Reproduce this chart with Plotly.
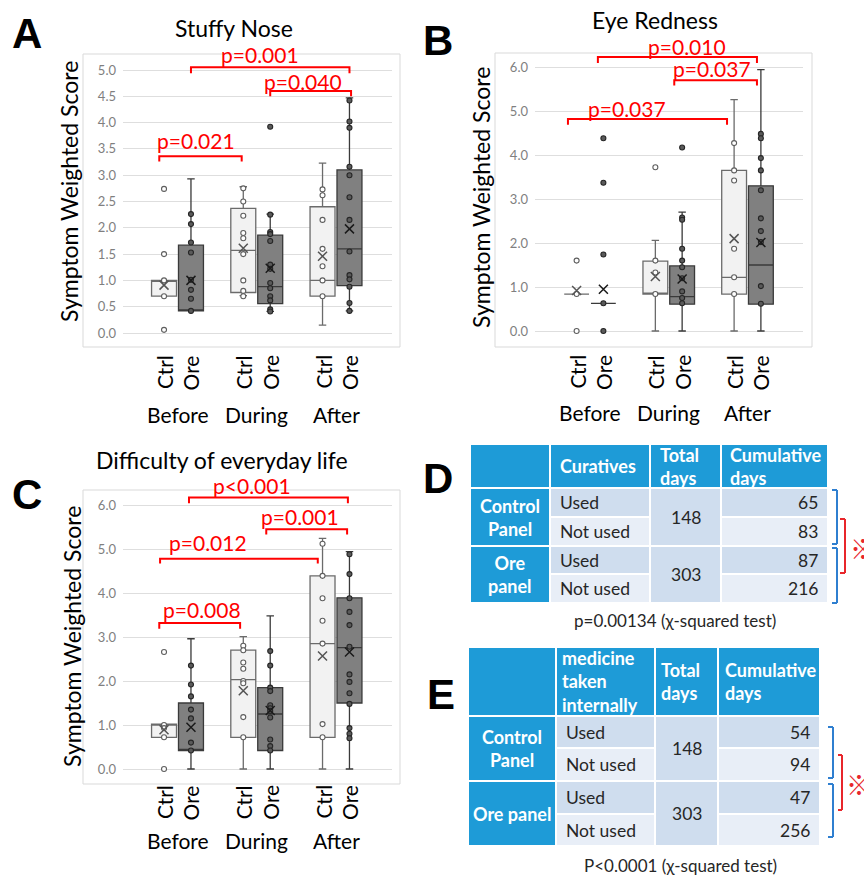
import plotly.graph_objects as go

W, H = 864, 876
def xp(p): return p / W
def yp(p): return 1 - p / H

FONT = "Lato"
groups = ["Before", "During", "After"]
series = ["Ctrl", "Ore"]

# ---------------- Panel A: Stuffy Nose ----------------
A_ctrl_q1   = [0.70, 0.77, 0.70]
A_ctrl_med  = [1.00, 1.57, 1.00]
A_ctrl_q3   = [1.00, 2.37, 2.40]
A_ctrl_lo   = [0.70, 0.71, 0.15]
A_ctrl_hi   = [1.00, 2.78, 3.23]
A_ctrl_mean = [0.91, 1.61, 1.46]
A_ctrl_pts  = [[2.74, 1.50, 1.00, 0.70, 0.06],
               [2.75, 2.50, 2.23, 1.90, 1.80, 1.50, 1.00, 0.80, 0.70],
               [2.73, 2.62, 2.15, 1.60, 1.27, 1.00, 0.70]]
A_ore_q1   = [0.42, 0.56, 0.90]
A_ore_med  = [0.42, 0.88, 1.60]
A_ore_q3   = [1.67, 1.86, 3.10]
A_ore_lo   = [0.42, 0.41, 0.42]
A_ore_hi   = [2.93, 2.26, 4.47]
A_ore_mean = [1.00, 1.23, 1.98]
A_ore_pts  = [[2.26, 2.07, 1.72, 1.53, 1.01, 0.82, 0.65, 0.42],
              [3.92, 2.25, 1.92, 1.88, 1.75, 1.30, 1.22, 0.95, 0.85, 0.70, 0.62, 0.45, 0.41],
              [4.42, 4.02, 3.90, 3.16, 3.00, 2.58, 2.15, 1.55, 1.10, 1.02, 0.88, 0.57, 0.42]]
A_p_labels = ["p=0.001", "p=0.040", "p=0.021"]

# ---------------- Panel B: Eye Redness ----------------
B_ctrl_q1   = [0.84, 0.84, 0.84]
B_ctrl_med  = [0.84, 0.84, 1.22]
B_ctrl_q3   = [0.84, 1.59, 3.65]
B_ctrl_lo   = [0.84, 0.00, 0.00]
B_ctrl_hi   = [0.84, 2.06, 5.26]
B_ctrl_mean = [0.92, 1.24, 2.10]
B_ctrl_pts  = [[1.60, 0.84, 0.00],
               [3.72, 1.60, 1.33, 0.84],
               [4.27, 3.65, 3.42, 1.87, 1.22, 0.84]]
B_ore_q1   = [0.63, 0.61, 0.61]
B_ore_med  = [0.63, 0.78, 1.50]
B_ore_q3   = [0.63, 1.48, 3.30]
B_ore_lo   = [0.63, 0.00, 0.00]
B_ore_hi   = [0.63, 2.70, 5.94]
B_ore_mean = [0.95, 1.18, 2.01]
B_ore_pts  = [[4.38, 3.37, 1.74, 0.63, 0.00],
              [4.17, 2.58, 2.53, 1.87, 1.60, 1.45, 1.20, 0.90, 0.75, 0.63],
              [4.48, 4.38, 3.93, 3.65, 3.20, 2.56, 2.27, 2.02, 1.02, 0.62]]
B_p_labels = ["p=0.010", "p=0.037", "p=0.037"]

# ---------------- Panel C: Difficulty of everyday life ----------------
C_ctrl_q1   = [0.72, 0.72, 0.72]
C_ctrl_med  = [1.00, 2.03, 2.85]
C_ctrl_q3   = [1.02, 2.70, 4.39]
C_ctrl_lo   = [0.72, 0.00, 0.00]
C_ctrl_hi   = [1.02, 3.01, 5.24]
C_ctrl_mean = [0.89, 1.78, 2.57]
C_ctrl_pts  = [[2.66, 1.00, 0.93, 0.72, 0.00],
               [2.80, 2.70, 2.42, 2.28, 2.00, 1.95, 1.18, 0.72],
               [5.12, 4.39, 3.88, 3.37, 2.85, 1.02, 0.72]]
C_ore_q1   = [0.42, 0.42, 1.50]
C_ore_med  = [0.42, 1.25, 2.76]
C_ore_q3   = [1.50, 1.85, 3.89]
C_ore_lo   = [0.00, 0.00, 0.00]
C_ore_hi   = [2.96, 3.48, 4.94]
C_ore_mean = [0.95, 1.33, 2.66]
C_ore_pts  = [[2.35, 1.92, 1.65, 1.35, 1.15, 0.60, 0.42],
              [2.68, 2.35, 1.85, 1.77, 1.45, 1.38, 1.32, 1.17, 0.67, 0.52, 0.42],
              [4.88, 4.43, 3.88, 3.57, 3.27, 2.78, 2.15, 1.98, 1.72, 1.48, 0.93, 0.80, 0.70]]
C_p_labels = ["p<0.001", "p=0.001", "p=0.012", "p=0.008"]

# ---------------- Tables D and E ----------------
D_header = ["", "Curatives", "Total<br>days", "Cumulative<br>days"]
D_groups = ["Control<br>Panel", "Ore<br>panel"]
D_status = ["Used", "Not used", "Used", "Not used"]
D_total  = [148, 303]
D_cum    = [65, 83, 87, 216]
D_caption = "p=0.00134 (χ-squared test)"

E_header = ["", "medicine<br>taken<br>internally", "Total<br>days", "Cumulative<br>days"]
E_groups = ["Control<br>Panel", "Ore panel"]
E_status = ["Used", "Not used", "Used", "Not used"]
E_total  = [148, 303]
E_cum    = [54, 94, 47, 256]
E_caption = "P<0.0001 (χ-squared test)"

# ---------------- Layout geometry (pixels of the reference) ----------------
OFF = 0.17      # half distance between Ctrl and Ore boxes (group units)
BOXW = 0.315
CTRL_FILL, CTRL_LINE = "#f2f2f2", "#6b6b6b"
ORE_FILL, ORE_LINE = "#808080", "#3a3a3a"
RED = "#ff0000"

panels = [
    dict(key="A", xa="x", ya="y", title="Stuffy Nose", title_xy=(234, 28),
         xdom=(123, 392), c0=177.5, sp=79.25, ydom=(44, 346), y0px=333, ypu=52.6,
         ticks=[i * 0.5 for i in range(11)], ylab_xy=(69, 192),
         lab_top=353, grp_y=415, letter=("A", 27, 34),
         data=dict(ctrl=(A_ctrl_q1, A_ctrl_med, A_ctrl_q3, A_ctrl_lo, A_ctrl_hi, A_ctrl_mean, A_ctrl_pts),
                   ore=(A_ore_q1, A_ore_med, A_ore_q3, A_ore_lo, A_ore_hi, A_ore_mean, A_ore_pts)),
         labels=A_p_labels,
         brackets=[(0.17, 2.17, 5.05, 0.11, 1.04, 5.29),
                   (1.17, 2.19, 4.60, 0.10, 1.58, 4.79),
                   (-0.23, 0.81, 3.36, 0.10, 0.23, 3.66)],
         frame=(83, 54, 400, 347)),
    dict(key="B", xa="x2", ya="y2", title="Eye Redness", title_xy=(655, 20),
         xdom=(535, 803), c0=590, sp=78.75, ydom=(40, 345), y0px=331, ypu=44.0,
         ticks=[0, 1, 2, 3, 4, 5, 6], ylab_xy=(481, 197),
         lab_top=353, grp_y=412, letter=("B", 438, 40),
         data=dict(ctrl=(B_ctrl_q1, B_ctrl_med, B_ctrl_q3, B_ctrl_lo, B_ctrl_hi, B_ctrl_mean, B_ctrl_pts),
                   ore=(B_ore_q1, B_ore_med, B_ore_q3, B_ore_lo, B_ore_hi, B_ore_mean, B_ore_pts)),
         labels=B_p_labels,
         brackets=[(0.10, 2.12, 6.23, 0.14, 1.23, 6.47),
                   (1.07, 2.12, 5.70, 0.12, 1.55, 5.96),
                   (-0.28, 1.74, 4.82, 0.13, 0.47, 5.05)],
         frame=(495, 53, 812, 347)),
    dict(key="C", xa="x3", ya="y3", title="Difficulty of everyday life", title_xy=(222, 460),
         xdom=(123, 392), c0=177.5, sp=79.25, ydom=(484, 780), y0px=769, ypu=44.0,
         ticks=[0, 1, 2, 3, 4, 5, 6], ylab_xy=(72, 637),
         lab_top=783, grp_y=840, letter=("C", 27, 494),
         data=dict(ctrl=(C_ctrl_q1, C_ctrl_med, C_ctrl_q3, C_ctrl_lo, C_ctrl_hi, C_ctrl_mean, C_ctrl_pts),
                   ore=(C_ore_q1, C_ore_med, C_ore_q3, C_ore_lo, C_ore_hi, C_ore_mean, C_ore_pts)),
         labels=C_p_labels,
         brackets=[(0.145, 2.15, 6.17, 0.13, 0.94, 6.44),
                   (1.12, 2.14, 5.45, 0.12, 1.55, 5.73),
                   (-0.22, 1.77, 4.78, 0.11, 0.385, 5.14),
                   (-0.23, 0.79, 3.32, 0.13, 0.31, 3.62)],
         frame=(83, 490, 400, 784)),
]

fig = go.Figure()
shapes = []
annotations = []
layout_axes = {}

for p in panels:
    xa, ya = p["xa"], p["ya"]
    xname = "xaxis" + xa[1:]
    yname = "yaxis" + ya[1:]
    xr = [(p["xdom"][0] - p["c0"]) / p["sp"], (p["xdom"][1] - p["c0"]) / p["sp"]]
    yr = [(p["y0px"] - p["ydom"][1]) / p["ypu"], (p["y0px"] - p["ydom"][0]) / p["ypu"]]
    layout_axes[xname] = dict(domain=[xp(p["xdom"][0]), xp(p["xdom"][1])], range=xr,
                              anchor=ya, showgrid=False, zeroline=False, showline=False,
                              showticklabels=False, ticks="", fixedrange=True)
    layout_axes[yname] = dict(domain=[yp(p["ydom"][1]), yp(p["ydom"][0])], range=yr,
                              anchor=xa, tickvals=p["ticks"], tickformat=".1f",
                              showgrid=True, gridcolor="#dedede", gridwidth=1,
                              zeroline=False, showline=False, ticks="",
                              ticklabelstandoff=6,
                              tickfont=dict(family=FONT, size=13, color="#7f7f7f"))
    for si, s in enumerate(["ctrl", "ore"]):
        q1, med, q3, lo, hi, mean, pts = p["data"][s]
        sign = -1 if s == "ctrl" else 1
        xs = [gi + sign * OFF for gi in range(len(groups))]
        fill = CTRL_FILL if s == "ctrl" else ORE_FILL
        lc = CTRL_LINE if s == "ctrl" else ORE_LINE
        fig.add_trace(go.Box(x=xs, q1=q1, median=med, q3=q3, lowerfence=lo, upperfence=hi,
                             orientation="v", boxpoints=False, width=BOXW, whiskerwidth=0.3,
                             fillcolor=fill, line=dict(color=lc, width=1.3),
                             xaxis=xa, yaxis=ya, hoverinfo="skip", showlegend=False))
        px_, py_ = [], []
        for gi, vals in enumerate(pts):
            for v in vals:
                px_.append(xs[gi]); py_.append(v)
        if s == "ctrl":
            mk = dict(symbol="circle", size=5, color="white", line=dict(color="#5e5e5e", width=1.1))
        else:
            mk = dict(symbol="circle", size=5, color="#5a5a5a", line=dict(color="#262626", width=1.1))
        fig.add_trace(go.Scatter(x=px_, y=py_, mode="markers", marker=mk, xaxis=xa, yaxis=ya,
                                 hoverinfo="skip", showlegend=False, cliponaxis=False))
        mcol = "#555555" if s == "ctrl" else "#1a1a1a"
        fig.add_trace(go.Scatter(x=xs, y=mean, mode="markers",
                                 marker=dict(symbol="x-thin-open", size=9, color=mcol,
                                             line=dict(color=mcol, width=1.5)),
                                 xaxis=xa, yaxis=ya, hoverinfo="skip", showlegend=False))
    # p-value brackets
    for lab, (x0, x1, yb, tk, tx, ty) in zip(p["labels"], p["brackets"]):
        fig.add_trace(go.Scatter(x=[x0, x0, x1, x1], y=[yb - tk, yb, yb, yb - tk], mode="lines",
                                 line=dict(color=RED, width=2), xaxis=xa, yaxis=ya,
                                 hoverinfo="skip", showlegend=False, cliponaxis=False))
        annotations.append(dict(x=tx, y=ty, xref=xa, yref=ya, text=lab, showarrow=False,
                                xanchor="center", yanchor="middle",
                                font=dict(family=FONT, size=21, color=RED)))
    # category labels
    for gi, g in enumerate(groups):
        for si, s in enumerate(series):
            sign = -1 if si == 0 else 1
            annotations.append(dict(x=gi + sign * OFF, y=yp(p["lab_top"]), xref=xa, yref="paper",
                                    text=s, textangle=-90, showarrow=False,
                                    xanchor="center", yanchor="top",
                                    font=dict(family=FONT, size=21, color="black")))
        annotations.append(dict(x=gi, y=yp(p["grp_y"]), xref=xa, yref="paper", text=g,
                                showarrow=False, xanchor="center", yanchor="middle",
                                font=dict(family=FONT, size=21, color="black")))
    # titles, y titles, panel letters
    annotations.append(dict(x=xp(p["title_xy"][0]), y=yp(p["title_xy"][1]), xref="paper", yref="paper",
                            text=p["title"], showarrow=False, xanchor="center", yanchor="middle",
                            font=dict(family=FONT, size=23, color="black")))
    annotations.append(dict(x=xp(p["ylab_xy"][0]), y=yp(p["ylab_xy"][1]), xref="paper", yref="paper",
                            text="Symptom Weighted Score", textangle=-90, showarrow=False,
                            xanchor="center", yanchor="middle",
                            font=dict(family=FONT, size=23, color="black")))
    L, lx, ly = p["letter"]
    annotations.append(dict(x=xp(lx), y=yp(ly), xref="paper", yref="paper", text="<b>%s</b>" % L,
                            showarrow=False, xanchor="center", yanchor="middle",
                            font=dict(family="Liberation Sans", size=42, color="black")))
    fx0, fy0, fx1, fy1 = p["frame"]
    shapes.append(dict(type="rect", xref="paper", yref="paper", x0=xp(fx0), x1=xp(fx1),
                       y0=yp(fy1), y1=yp(fy0), line=dict(color="#d9d9d9", width=1),
                       fillcolor="rgba(0,0,0,0)", layer="below"))

# ---------------- tables ----------------
BLUE = "#1e9bd7"
USED = "#cfddee"
NOTUSED = "#e8eef7"
TXT = "#262626"

def rect(x0, y0, x1, y1, color):
    shapes.append(dict(type="rect", xref="paper", yref="paper", x0=xp(x0), x1=xp(x1),
                       y0=yp(y1), y1=yp(y0), fillcolor=color, line=dict(color="white", width=2),
                       layer="above"))

def text(x, y, s, anchor="left", color=TXT, size=17.5, bold=False):
    annotations.append(dict(x=xp(x), y=yp(y), xref="paper", yref="paper",
                            text=("<b>%s</b>" % s) if bold else s, showarrow=False,
                            xanchor=anchor, yanchor="middle", align=anchor if anchor != "center" else "center",
                            font=dict(family=FONT, size=size, color=color)))

def bracket(x0, x1, y0, y1, color):
    for (a, b, c, d) in [(x0, y0, x1, y0), (x1, y0, x1, y1), (x0, y1, x1, y1)]:
        shapes.append(dict(type="line", xref="paper", yref="paper", x0=xp(a), y0=yp(b),
                           x1=xp(c), y1=yp(d), line=dict(color=color, width=2)))

def add_table(cols, rows, header, grp, status, total, cum, caption, cap_xy, hdr_pads,
              blue_br, red_br, mark_xy):
    for ci in range(4):
        rect(cols[ci], rows[0], cols[ci + 1], rows[1], BLUE)
        if header[ci]:
            text(cols[ci] + hdr_pads[ci], (rows[0] + rows[1]) / 2, header[ci], color="white",
                 bold=True, size=18)
    for gi in range(2):
        r0, r1 = rows[1 + 2 * gi], rows[3 + 2 * gi]
        rect(cols[0], r0, cols[1], r1, BLUE)
        text((cols[0] + cols[1]) / 2, (r0 + r1) / 2, grp[gi], anchor="center", color="white",
             bold=True, size=18)
        rect(cols[2], r0, cols[3], r1, USED)
        text((cols[2] + cols[3]) / 2, (r0 + r1) / 2, str(total[gi]), anchor="center")
    for ri in range(4):
        c = USED if ri % 2 == 0 else NOTUSED
        y0, y1 = rows[1 + ri], rows[2 + ri]
        rect(cols[1], y0, cols[2], y1, c)
        rect(cols[3], y0, cols[4], y1, c)
        text(cols[1] + 8, (y0 + y1) / 2, status[ri])
        text(cols[4] - 8, (y0 + y1) / 2, str(cum[ri]), anchor="right")
    text(cap_xy[0], cap_xy[1], caption, anchor="center", size=17)
    for (x0, x1, y0, y1) in blue_br:
        bracket(x0, x1, y0, y1, "#2f7fd0")
    bracket(*red_br, "#e8262b")
    annotations.append(dict(x=xp(mark_xy[0]), y=yp(mark_xy[1]), xref="paper", yref="paper",
                            text="※", showarrow=False, xanchor="left", yanchor="middle",
                            font=dict(family="Noto Sans CJK JP", size=26, color="#e8262b")))

add_table([470, 550, 650, 721, 828], [444, 488, 517, 546, 574, 603],
          D_header, D_groups, D_status, D_total, D_cum, D_caption, (675, 620),
          [0, 8, 8, 7],
          [(832, 837, 490, 544), (832, 837, 548, 603)], (840, 845, 519, 573), (848, 547))
annotations.append(dict(x=xp(438), y=yp(478), xref="paper", yref="paper", text="<b>D</b>",
                        showarrow=False, xanchor="center", yanchor="middle",
                        font=dict(family="Liberation Sans", size=42, color="black")))

add_table([468, 556, 655, 718, 820], [647, 716, 748, 781, 814, 846],
          E_header, E_groups, E_status, E_total, E_cum, E_caption, (680, 865),
          [0, 4, 4, 5],
          [(828, 833, 727, 778), (828, 833, 784, 837)], (838, 842, 755, 810), (844, 783))
annotations.append(dict(x=xp(441), y=yp(694), xref="paper", yref="paper", text="<b>E</b>",
                        showarrow=False, xanchor="center", yanchor="middle",
                        font=dict(family="Liberation Sans", size=42, color="black")))

fig.update_layout(width=W, height=H, margin=dict(l=0, r=0, t=0, b=0),
                  paper_bgcolor="white", plot_bgcolor="white", showlegend=False,
                  shapes=shapes, annotations=annotations, **layout_axes)
fig.write_html("out.html")
